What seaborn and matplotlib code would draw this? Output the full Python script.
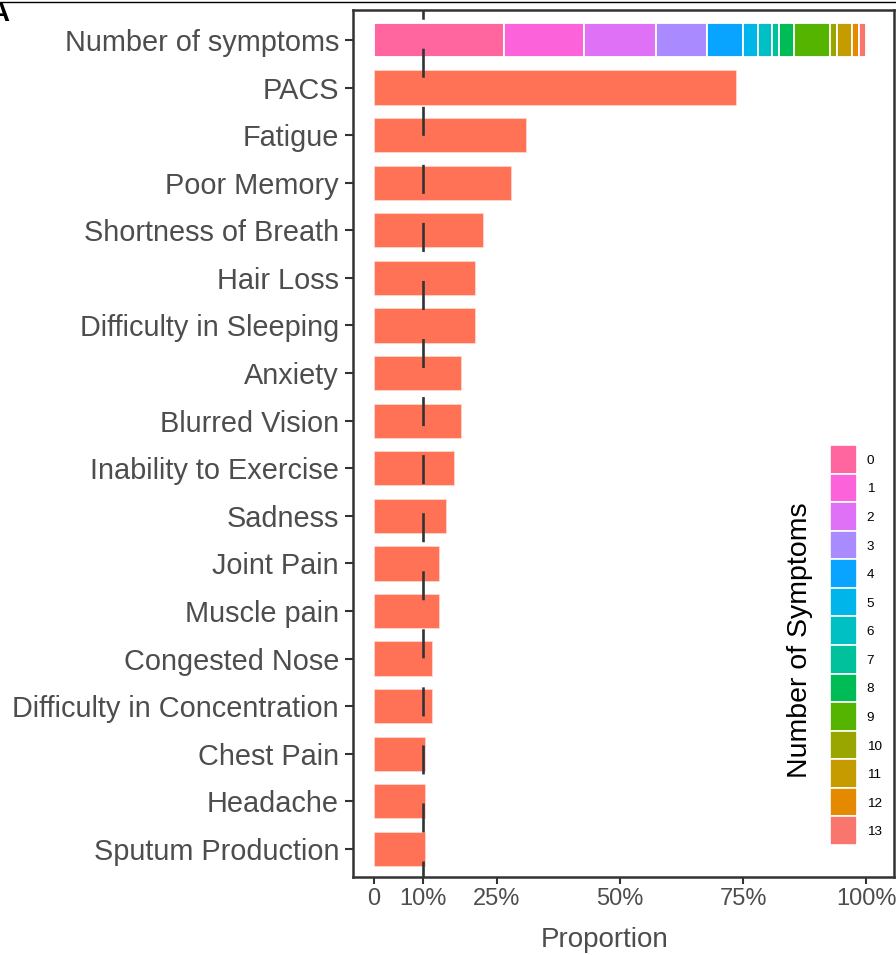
import numpy as np
import pandas as pd
import seaborn as sns
import matplotlib.pyplot as plt
from matplotlib.lines import Line2D

# symptom proportions (orange bars), top to bottom
symptoms = [
    "PACS", "Fatigue", "Poor Memory", "Shortness of Breath", "Hair Loss",
    "Difficulty in Sleeping", "Anxiety", "Blurred Vision", "Inability to Exercise",
    "Sadness", "Joint Pain", "Muscle pain", "Congested Nose",
    "Difficulty in Concentration", "Chest Pain", "Headache", "Sputum Production",
]
proportions = [
    0.735, 0.309, 0.279, 0.221, 0.206,
    0.206, 0.176, 0.176, 0.162,
    0.147, 0.132, 0.132, 0.118,
    0.118, 0.103, 0.103, 0.103,
]

# distribution of number of symptoms (stacked bar in the top row)
n_symptom_levels = [str(i) for i in range(14)]
n_symptom_shares = [
    0.265, 0.162, 0.147, 0.103, 0.074, 0.029, 0.029,
    0.015, 0.029, 0.074, 0.015, 0.029, 0.015, 0.015,
]
level_colors = [
    "#FF66A0", "#FC62D9", "#DF71F6", "#A98AFF", "#08A4FF", "#00B5EA", "#00C0C4",
    "#00C19C", "#00BC57", "#55B400", "#9AA600", "#C69B00", "#E48A00", "#F8766D",
]

x_ticks = [0, 0.10, 0.25, 0.50, 0.75, 1.00]
x_tick_labels = ["0", "10%", "25%", "50%", "75%", "100%"]
top_row = "Number of symptoms"

W, H = 896, 955


def main():
    sns.set_theme(style="white")
    plt.rcParams["font.family"] = ["Liberation Sans", "DejaVu Sans"]
    plt.rcParams["lines.scale_dashes"] = False

    fig = plt.figure(figsize=(W / 100, H / 100), dpi=100)
    ax = fig.add_axes([353 / W, 1 - 877 / H, (894 - 353) / W, (877 - 10) / H])

    df = pd.DataFrame({"Symptom": symptoms, "Proportion": proportions})
    sns.barplot(
        data=df, y="Symptom", x="Proportion", order=[top_row] + symptoms,
        color="#FF7256", saturation=1, width=0.72, errorbar=None,
        edgecolor="#FFD6CC", linewidth=0.6, ax=ax,
    )

    # stacked bar for number of symptoms
    left = np.concatenate([[0], np.cumsum(n_symptom_shares)[:-1]])
    ax.barh(
        np.zeros(len(n_symptom_shares)), n_symptom_shares, left=left, height=0.72,
        color=level_colors, edgecolor="white", linewidth=1.3,
    )

    # 10% reference line
    ax.axvline(0.10, color="#333333", lw=1.9, linestyle=(9.4, (20.9, 20.9)), zorder=5)

    ax.set_xlim(-0.0427, 1.0569)
    ax.set_ylim(17.59, -0.63)
    ax.set_xticks(x_ticks, x_tick_labels)
    ax.set_ylabel("")
    ax.set_xlabel("Proportion", fontsize=20, color="#4D4D4D", labelpad=12)
    ax.xaxis.label.set_x(0.466)
    ax.tick_params(axis="y", labelsize=20.8, labelcolor="#4D4D4D", length=6,
                   width=1.5, color="#333333", pad=4, left=True)
    ax.tick_params(axis="x", labelsize=17, labelcolor="#4D4D4D", length=5,
                   width=1.5, color="#333333", pad=3, bottom=True)
    for s in ax.spines.values():
        s.set_visible(True)
        s.set_color("#333333")
        s.set_linewidth(1.8)

    # legend drawn as a small key strip
    cax = fig.add_axes([830 / W, 1 - 845 / H, 27 / W, 400 / H])
    cax.barh(np.arange(14), np.ones(14), height=1, color=level_colors,
             edgecolor="white", linewidth=1.2)
    cax.set_xlim(0, 1)
    cax.set_ylim(13.5, -0.5)
    cax.set_yticks(np.arange(14), n_symptom_levels)
    cax.yaxis.tick_right()
    cax.tick_params(axis="y", length=0, labelsize=9.7, labelcolor="black", pad=7)
    cax.set_xticks([])
    for s in cax.spines.values():
        s.set_visible(False)
    fig.text(800 / W, 1 - 640 / H, "Number of Symptoms", rotation=90,
             ha="center", va="center", fontsize=20.5, color="black")

    # cropped remnants of the panel above
    fig.add_artist(Line2D([0, 1], [1 - 2 / H] * 2, transform=fig.transFigure,
                          color="black", lw=1))
    fig.text(9 / W, 1 - 21 / H, "A", ha="right", va="baseline", fontsize=20,
             fontweight="bold", color="black")

    fig.savefig("out.png", dpi=100)


if __name__ == "__main__":
    main()
